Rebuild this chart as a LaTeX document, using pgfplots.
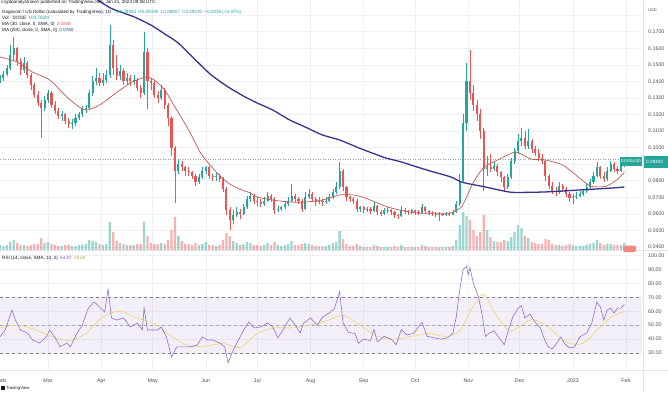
\documentclass[border=0pt]{standalone}
\usepackage{fontspec}
\setmainfont{Liberation Sans}
\usepackage{pgfplots}
\pgfplotsset{compat=1.18}
\usepackage{pgfplotstable}

\definecolor{upc}{HTML}{26A69A}
\definecolor{dnc}{HTML}{EF5350}
\definecolor{ma30}{HTML}{C4574F}
\definecolor{ma200}{HTML}{34348F}
\definecolor{rsic}{HTML}{7E57C2}
\definecolor{rsima}{HTML}{F2D36B}
\definecolor{gridc}{HTML}{EEF0F4}
\definecolor{labc}{HTML}{4A4E5A}
\definecolor{txt}{HTML}{131722}
\definecolor{sepc}{HTML}{E0E3EB}

\pgfplotstableread{
d o h l c v
0 0.1400 0.1440 0.1390 0.1420 5
2 0.1420 0.1460 0.1405 0.1445 4
4 0.1445 0.1500 0.1430 0.1480 5
6 0.1480 0.1620 0.1470 0.1560 8
8 0.1560 0.1670 0.1530 0.1600 10
10 0.1600 0.1610 0.1490 0.1520 7
12 0.1520 0.1540 0.1440 0.1470 5
14 0.1470 0.1550 0.1450 0.1510 5
16 0.1510 0.1520 0.1420 0.1440 4
18 0.1440 0.1450 0.1350 0.1380 5
20 0.1380 0.1390 0.1300 0.1320 6
22 0.1320 0.1340 0.1250 0.1270 6
24 0.1270 0.1290 0.1060 0.1240 12
26 0.1240 0.1310 0.1220 0.1290 7
28 0.1290 0.1350 0.1270 0.1330 8
30 0.1330 0.1340 0.1240 0.1260 6
32 0.1260 0.1280 0.1200 0.1220 5
34 0.1220 0.1240 0.1170 0.1190 4
36 0.1190 0.1220 0.1160 0.1200 4
38 0.1200 0.1210 0.1140 0.1160 5
40 0.1160 0.1180 0.1120 0.1140 5
42 0.1140 0.1170 0.1115 0.1150 4
44 0.1150 0.1200 0.1130 0.1180 4
46 0.1180 0.1215 0.1165 0.1200 5
48 0.1200 0.1250 0.1185 0.1230 5
50 0.1230 0.1260 0.1210 0.1240 6
52 0.1240 0.1350 0.1230 0.1330 10
54 0.1330 0.1430 0.1310 0.1400 9
56 0.1400 0.1480 0.1380 0.1420 8
58 0.1420 0.1450 0.1370 0.1390 6
60 0.1390 0.1450 0.1370 0.1410 5
62 0.1410 0.1470 0.1390 0.1440 6
64 0.1440 0.1740 0.1420 0.1620 28
66 0.1620 0.1650 0.1440 0.1480 18
68 0.1480 0.1560 0.1410 0.1430 9
70 0.1430 0.1500 0.1410 0.1460 7
72 0.1460 0.1480 0.1380 0.1400 6
74 0.1400 0.1450 0.1380 0.1420 5
76 0.1420 0.1440 0.1370 0.1400 5
78 0.1400 0.1440 0.1380 0.1410 5
80 0.1410 0.1420 0.1340 0.1360 6
82 0.1360 0.1380 0.1300 0.1330 6
84 0.1330 0.1700 0.1320 0.1580 28
86 0.1580 0.1600 0.1230 0.1400 14
88 0.1400 0.1420 0.1350 0.1390 7
90 0.1390 0.1400 0.1300 0.1320 6
92 0.1320 0.1340 0.1270 0.1300 6
94 0.1300 0.1380 0.1290 0.1350 7
96 0.1350 0.1360 0.1230 0.1260 6
98 0.1260 0.1270 0.1130 0.1180 10
100 0.1180 0.1190 0.0950 0.1000 20
102 0.1000 0.1010 0.0665 0.0860 33
104 0.0860 0.0930 0.0840 0.0900 14
106 0.0900 0.0920 0.0860 0.0880 9
108 0.0880 0.0890 0.0830 0.0860 6
110 0.0860 0.0880 0.0830 0.0850 6
112 0.0850 0.0860 0.0810 0.0830 5
114 0.0830 0.0840 0.0770 0.0790 7
116 0.0790 0.0840 0.0780 0.0820 5
118 0.0820 0.0880 0.0810 0.0860 6
120 0.0860 0.0890 0.0840 0.0880 8
122 0.0880 0.0890 0.0810 0.0830 5
124 0.0830 0.0840 0.0800 0.0820 5
126 0.0820 0.0850 0.0800 0.0830 4
128 0.0830 0.0840 0.0790 0.0810 5
130 0.0810 0.0820 0.0730 0.0750 10
132 0.0750 0.0760 0.0590 0.0620 17
134 0.0620 0.0640 0.0500 0.0560 14
136 0.0560 0.0620 0.0540 0.0590 9
138 0.0590 0.0640 0.0580 0.0610 7
140 0.0610 0.0630 0.0570 0.0600 5
142 0.0600 0.0660 0.0590 0.0640 6
144 0.0640 0.0710 0.0630 0.0690 8
146 0.0690 0.0730 0.0670 0.0710 7
148 0.0710 0.0720 0.0660 0.0680 5
150 0.0680 0.0700 0.0650 0.0670 5
152 0.0670 0.0690 0.0640 0.0660 4
154 0.0660 0.0700 0.0650 0.0680 5
156 0.0680 0.0730 0.0670 0.0710 7
158 0.0710 0.0720 0.0670 0.0690 5
160 0.0690 0.0700 0.0600 0.0620 8
162 0.0620 0.0650 0.0610 0.0630 5
164 0.0630 0.0650 0.0615 0.0640 4
166 0.0640 0.0680 0.0630 0.0660 5
168 0.0660 0.0700 0.0650 0.0680 6
170 0.0680 0.0780 0.0670 0.0710 9
172 0.0710 0.0720 0.0670 0.0690 5
174 0.0690 0.0700 0.0660 0.0680 5
176 0.0680 0.0690 0.0610 0.0630 6
178 0.0630 0.0730 0.0620 0.0700 7
180 0.0700 0.0750 0.0690 0.0720 6
182 0.0720 0.0730 0.0670 0.0690 5
184 0.0690 0.0700 0.0650 0.0670 4
186 0.0670 0.0700 0.0660 0.0680 4
188 0.0680 0.0690 0.0650 0.0670 4
190 0.0670 0.0700 0.0660 0.0680 4
192 0.0680 0.0720 0.0670 0.0700 5
194 0.0700 0.0750 0.0690 0.0730 7
196 0.0730 0.0790 0.0720 0.0760 8
198 0.0760 0.0913 0.0750 0.0860 19
200 0.0860 0.0870 0.0740 0.0760 11
202 0.0760 0.0770 0.0680 0.0700 6
204 0.0700 0.0710 0.0670 0.0690 4
206 0.0690 0.0700 0.0660 0.0680 4
208 0.0680 0.0690 0.0610 0.0630 6
210 0.0630 0.0650 0.0610 0.0640 4
212 0.0640 0.0650 0.0605 0.0620 3
214 0.0620 0.0640 0.0610 0.0630 3
216 0.0630 0.0640 0.0600 0.0615 3
218 0.0615 0.0670 0.0610 0.0650 5
220 0.0650 0.0655 0.0595 0.0610 4
222 0.0610 0.0620 0.0585 0.0600 3
224 0.0600 0.0635 0.0595 0.0620 3
226 0.0620 0.0640 0.0605 0.0625 3
228 0.0625 0.0630 0.0595 0.0610 3
230 0.0610 0.0615 0.0575 0.0590 4
232 0.0590 0.0600 0.0570 0.0585 3
234 0.0585 0.0650 0.0580 0.0625 5
236 0.0625 0.0635 0.0600 0.0615 3
238 0.0615 0.0625 0.0595 0.0610 3
240 0.0610 0.0630 0.0600 0.0620 3
242 0.0620 0.0625 0.0595 0.0610 3
244 0.0610 0.0620 0.0590 0.0605 3
246 0.0605 0.0660 0.0600 0.0640 5
248 0.0640 0.0645 0.0600 0.0615 4
250 0.0615 0.0620 0.0590 0.0605 3
252 0.0605 0.0615 0.0585 0.0600 3
254 0.0600 0.0610 0.0580 0.0595 3
256 0.0595 0.0610 0.0555 0.0600 3
258 0.0600 0.0605 0.0585 0.0595 3
260 0.0595 0.0610 0.0585 0.0600 3
262 0.0600 0.0610 0.0585 0.0595 3
264 0.0595 0.0620 0.0590 0.0610 4
266 0.0610 0.0680 0.0605 0.0660 10
268 0.0660 0.0840 0.0650 0.0800 25
270 0.0800 0.1200 0.0790 0.1150 38
272 0.1150 0.1510 0.1100 0.1400 34
274 0.1400 0.1590 0.1290 0.1330 30
276 0.1330 0.1380 0.1220 0.1260 20
278 0.1260 0.1290 0.1160 0.1200 14
280 0.1200 0.1230 0.1050 0.1100 18
282 0.1100 0.1120 0.0740 0.0870 35
284 0.0870 0.0950 0.0830 0.0880 20
286 0.0880 0.0960 0.0850 0.0870 13
288 0.0870 0.0920 0.0860 0.0890 9
290 0.0890 0.0900 0.0830 0.0850 8
292 0.0850 0.0860 0.0790 0.0820 8
294 0.0820 0.0830 0.0740 0.0760 10
296 0.0760 0.0840 0.0750 0.0820 9
298 0.0820 0.0940 0.0810 0.0920 13
300 0.0920 0.1000 0.0900 0.0980 18
302 0.0980 0.1080 0.0960 0.1040 25
304 0.1040 0.1120 0.1010 0.1060 22
306 0.1060 0.1100 0.0990 0.1010 14
308 0.1010 0.1110 0.0990 0.1040 12
310 0.1040 0.1050 0.0970 0.0990 8
312 0.0990 0.1010 0.0950 0.0970 7
314 0.0970 0.0990 0.0920 0.0940 6
316 0.0940 0.0960 0.0900 0.0920 6
318 0.0920 0.0930 0.0800 0.0830 11
320 0.0830 0.0840 0.0750 0.0770 10
322 0.0770 0.0790 0.0720 0.0740 6
324 0.0740 0.0760 0.0710 0.0730 5
326 0.0730 0.0790 0.0720 0.0765 5
328 0.0765 0.0780 0.0730 0.0750 4
330 0.0750 0.0760 0.0700 0.0720 5
332 0.0720 0.0730 0.0670 0.0695 6
334 0.0695 0.0720 0.0660 0.0700 5
336 0.0700 0.0730 0.0690 0.0710 4
338 0.0710 0.0735 0.0700 0.0720 4
340 0.0720 0.0750 0.0710 0.0735 4
342 0.0735 0.0780 0.0725 0.0760 5
344 0.0760 0.0810 0.0750 0.0790 6
346 0.0790 0.0850 0.0780 0.0830 7
348 0.0830 0.0910 0.0820 0.0880 10
350 0.0880 0.0890 0.0810 0.0830 7
352 0.0830 0.0850 0.0790 0.0810 5
354 0.0810 0.0880 0.0800 0.0860 6
356 0.0860 0.0920 0.0850 0.0900 6
358 0.0900 0.0910 0.0850 0.0870 5
360 0.0870 0.0890 0.0840 0.0860 5
362 0.0860 0.0910 0.0850 0.0890 5
364 0.0890 0.0945 0.0880 0.0930 7
}\candles

\pgfplotsset{
  tvbase/.style={scale only axis, width=642pt, xmin=0, xmax=374.3, anchor=south west, hide axis},
  upf/.style={restrict expr to domain={\thisrow{c}-\thisrow{o}}{0:1}},
  dnf/.style={restrict expr to domain={\thisrow{c}-\thisrow{o}}{-1:-0.0000001}},
  candle/.style n args={2}{draw=none, mark=none, error bars/.cd, y dir=plus, y explicit, error mark=none,
    error bar style={line width=#1, draw=#2, solid}},
}
\newcommand{\hdr}{\fontsize{4.6}{5.5}\selectfont}
\newcommand{\tkl}{\fontsize{5.3}{6}\selectfont}

\begin{document}
\begin{tikzpicture}[x=1pt,y=1pt]
\fill[white] (0,0) rectangle (668,392);

% ---- grid (month lines, price and RSI levels)
\foreach \gx in {48.0,101.2,152.7,205.8,257.3,310.5,363.6,415.1,468.3,519.7,572.9,626.0}
  {\draw[gridc, line width=0.5pt] (\gx,142) -- (\gx,392);
   \draw[gridc, line width=0.5pt] (\gx,22) -- (\gx,141);}
\foreach \gy in {145.10,161.65,178.21,194.76,211.32,227.87,244.43,260.98,277.54,294.09,310.65,327.20,343.76,360.31,376.86}
  {\draw[gridc, line width=0.5pt] (0,\gy) -- (642,\gy);}
\foreach \gy in {38.90,52.87,66.84,80.81,94.78,108.75,122.72,136.70}
  {\draw[gridc, line width=0.5pt] (0,\gy) -- (642,\gy);}

% ---- volume (bottom of price pane)
\begin{axis}[tvbase, at={(0pt,142pt)}, height=250pt, ymin=0, ymax=250,
  ybar, bar width=2.3pt, bar shift=0pt]
\addplot[upf, fill=upc, fill opacity=0.45, draw=none] table[x=d, y=v] {\candles};
\addplot[dnf, fill=dnc, fill opacity=0.45, draw=none] table[x=d, y=v] {\candles};
\end{axis}

% ---- price pane
\begin{axis}[tvbase, at={(0pt,142pt)}, height=250pt, ymin=0.03813, ymax=0.18914]
\addplot[labc!55, dotted, line width=0.5pt] coordinates {(0,0.0930) (374.3,0.0930)};
\addplot[upf, candle={0.45pt}{upc}]
  table[x=d, y=l, y error plus expr=\thisrow{h}-\thisrow{l}] {\candles};
\addplot[dnf, candle={0.45pt}{dnc}]
  table[x=d, y=l, y error plus expr=\thisrow{h}-\thisrow{l}] {\candles};
\addplot[upf, candle={2.1pt}{upc}]
  table[x=d, y=o, y error plus expr=\thisrow{c}-\thisrow{o}] {\candles};
\addplot[dnf, candle={2.1pt}{dnc}]
  table[x=d, y=c, y error plus expr=\thisrow{o}-\thisrow{c}] {\candles};
% MA 30
\addplot[ma30, line width=0.7pt, smooth, tension=0.4] coordinates {
(0,0.1547)(10,0.1517)(19,0.1456)(29,0.1408)(39,0.1305)(47,0.1239)(51,0.1227)(58,0.1257)
(66,0.1317)(76,0.1390)(85,0.1426)(90,0.1408)(96,0.1348)(102,0.1245)(110,0.1106)(117,0.0967)
(125,0.0864)(133,0.0786)(141,0.0744)(146,0.0726)(150,0.0701)(159,0.0683)(169,0.0671)
(178,0.0671)(188,0.0683)(198,0.0714)(206,0.0714)(213,0.0695)(225,0.0645)(234,0.0620)
(243,0.0605)(253,0.0603)(263,0.0605)(269,0.0641)(272,0.0700)(276,0.0790)(282,0.0880)
(290,0.0925)(300,0.0973)(304,0.0960)(310,0.0930)(318,0.0925)(328,0.0895)(335,0.0840)
(341,0.0790)(345,0.0765)(353,0.0765)(359,0.0800)(364,0.0850)};
% MA 200
\addplot[ma200, line width=1.3pt, smooth, tension=0.4] coordinates {
(55,0.1905)(65,0.1840)(78,0.1790)(88,0.1740)(97,0.1680)(104,0.1631)(114,0.1529)(123,0.1440)
(133,0.1366)(143,0.1305)(150,0.1269)(159,0.1227)(169,0.1166)(178,0.1124)(188,0.1076)
(198,0.1046)(208,0.1003)(217,0.0967)(225,0.0937)(234,0.0913)(243,0.0883)(253,0.0852)
(263,0.0822)(269,0.0792)(276,0.0776)(282,0.0764)(294,0.0737)(300,0.0729)(318,0.0732)
(338,0.0744)(357,0.0756)(364,0.0762)};
\end{axis}

% ---- RSI pane
\begin{axis}[tvbase, at={(0pt,22pt)}, height=119pt, ymin=17.9, ymax=103.08]
\addplot[draw=none, fill=rsic, fill opacity=0.09] coordinates {(0,30) (374.3,30) (374.3,70) (0,70) (0,30)};
\addplot[labc!70, dashed, line width=0.4pt] coordinates {(0,70) (374.3,70)};
\addplot[labc!50, dashed, line width=0.4pt] coordinates {(0,50) (374.3,50)};
\addplot[labc!70, dashed, line width=0.4pt] coordinates {(0,30) (374.3,30)};
\addplot[rsima, line width=0.6pt, smooth, tension=0.5] coordinates {
(0,48)(10,50)(20,47)(30,42)(40,39)(50,44)(60,56)(70,60)(80,55)(90,51)(100,42)(110,35)
(120,35)(130,37)(140,34)(150,44)(160,48)(170,48)(180,50)(190,53)(200,57)(210,50)(220,42)
(230,40)(240,42)(250,44)(260,42)(268,46)(275,62)(282,72)(290,56)(298,46)(310,54)(320,48)
(330,38)(340,37)(350,49)(358,57)(364,59.7)};
\addplot[rsic!85, line width=0.6pt] coordinates {
(0,41.7)(3,46.5)(7,60.8)(9,53.7)(12,46.5)(16,44.4)(19,39.4)(23,37.2)(27,41.6)(29,46.5)
(33,39.4)(35,34.5)(39,37.2)(41,34.5)(45,44.4)(48,50)(51,60.8)(52,63)(55,66.6)(58,63)
(61,59.4)(63,75.9)(65,55.1)(68,53.7)(72,55.1)(76,48.7)(80,51.5)(83,46.5)(84,62.2)(86,46.5)
(92,46.5)(94,48.7)(97,41.6)(99,32.2)(100,27.2)(103,34.5)(107,34.5)(111,34.5)(115,35.8)
(118,41.6)(121,39.4)(124,39.4)(128,37.2)(131,34.5)(133,23.1)(136,32.2)(139,39.4)(142,46.5)
(145,52.3)(148,48)(152,48.7)(156,51.5)(159,48.7)(162,40.8)(165,46.5)(169,55.1)(173,48.7)
(175,44.4)(177,51.5)(181,55.1)(185,50)(188,55.8)(192,58.7)(195,62)(198,74)(200,52)(203,45)
(207,44)(209,37)(212,40)(216,39)(218,47)(220,38)(224,42)(228,40)(231,36)(234,47)(237,43)
(241,44)(246,52)(249,42)(253,41)(257,40)(261,41)(264,44)(266,56)(268,75)(270,90)(272,92)
(273,86)(274,91)(276,80)(279,70)(281,58)(283,42)(285,44)(288,46)(291,41)(294,36)(296,45)
(299,56)(302,62)(304,64)(306,55)(309,58)(312,52)(315,48)(318,38)(320,34)(322,33)(325,38)
(327,41.6)(329,37)(332,33.7)(335,34.5)(338,41.6)(342,44.4)(345,51.5)(348,66.6)(350,63)
(352,53.7)(354,60.8)(356,62.2)(358,58.7)(360,62.2)(362,62.2)(364,64.9)};
\end{axis}

% ---- separators
\draw[sepc, line width=0.6pt] (0,141.5) -- (668,141.5);
\draw[sepc, line width=0.6pt] (0,22) -- (668,22);
\draw[sepc, line width=0.6pt] (643,0) -- (643,392);

% ---- price scale labels (0.0900 is covered by the last-price tag)
\foreach \gy/\t in {145.10/0.0400,161.65/0.0500,178.21/0.0600,194.76/0.0700,211.32/0.0800,
  244.43/0.1000,260.98/0.1100,277.54/0.1200,294.09/0.1300,310.65/0.1400,
  327.20/0.1500,343.76/0.1600,360.31/0.1700}
  {\node[anchor=west, inner sep=0, font=\tkl, text=labc] at (648,\gy) {\t};}
\foreach \gy/\t in {38.90/30.00,52.87/40.00,66.84/50.00,80.81/60.00,94.78/70.00,
  108.75/80.00,122.72/90.00,136.70/100.00}
  {\node[anchor=west, inner sep=0, font=\tkl, text=labc] at (648,\gy) {\t};}
% ---- time labels
\foreach \gx/\t in {1.5/Feb,48.0/Mar,101.2/Apr,152.7/May,205.8/Jun,257.3/Jul,310.5/Aug,
  363.6/Sep,415.1/Oct,468.3/Nov,519.7/Dec,572.9/2023,626.0/Feb}
  {\node[inner sep=0, font=\tkl, text=labc] at (\gx,11) {\t};}

% ---- price labels on scale
\fill[upc] (620,226) rectangle (642,235);
\node[font=\fontsize{4}{4.5}\selectfont, text=white, inner sep=0] at (631,230.5) {DOGEUSD};
\fill[upc] (644,224) rectangle (668,236);
\node[font=\fontsize{4.6}{5}\selectfont, text=white, inner sep=0, anchor=west] at (646,230) {0.09300};
\fill[dnc!70, rounded corners=2pt] (623,140) rectangle (636,146.5);
\node[font=\fontsize{4}{5}\selectfont, text=labc, anchor=west, inner sep=0] at (648,382) {USD};

% ---- legends
\node[anchor=west, inner sep=0, font=\hdr, text=txt] at (1,389.5) {cryptoanalystnavin published on TradingView.com, Jan 31, 2023 09:08 UTC};
\node[anchor=west, inner sep=0, font=\hdr, text=txt] at (2,380) {Dogecoin / US Dollar (calculated by TradingView), 1D\quad\textcolor{upc}{O0.08934\enspace H0.09390\enspace L0.08907\enspace C0.09330\enspace +0.0038 (+4.47\%)}};
\node[anchor=west, inner sep=0, font=\hdr, text=txt] at (2,374) {Vol · DOGE\enspace\textcolor{upc}{104.782M}};
\node[anchor=west, inner sep=0, font=\hdr, text=txt] at (2,368) {MA (30, close, 0, SMA, 0)\enspace\textcolor{dnc}{0.0838}};
\node[anchor=west, inner sep=0, font=\hdr, text=txt] at (2,362) {MA (200, close, 0, SMA, 0)\enspace\textcolor{ma200}{0.0760}};
\node[anchor=west, inner sep=0, font=\hdr, text=txt] at (2,134) {RSI (14, close, SMA, 14, 2)\enspace\textcolor{rsic}{64.87}\enspace\textcolor{rsima!80!black}{59.68}};

% ---- footer
\fill[txt] (1,2) rectangle (5,6);
\node[anchor=west, inner sep=0, font=\fontsize{4.2}{5}\selectfont, text=txt] at (6,4) {TradingView};

\pgfresetboundingbox
\useasboundingbox (0,0) rectangle (668,392);
\end{tikzpicture}
\end{document}
